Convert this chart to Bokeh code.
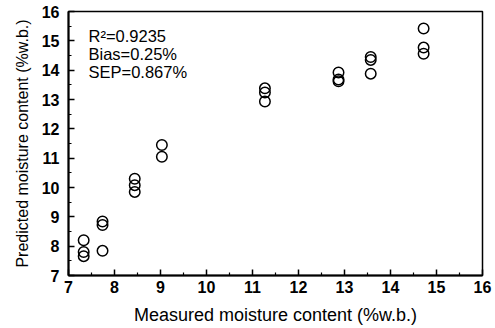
from bokeh.plotting import figure
from bokeh.models import Range1d, Label, FixedTicker
from bokeh.embed import file_html
from bokeh.resources import INLINE

# Data
measured = [7.33, 7.33, 7.33, 7.74, 7.74, 7.74, 8.44, 8.44, 8.44, 9.03, 9.03,
            11.27, 11.27, 11.27, 12.87, 12.87, 12.87, 13.57, 13.57, 13.57,
            14.72, 14.72, 14.72]
predicted = [8.2, 7.8, 7.66, 8.84, 8.72, 7.84, 10.3, 10.08, 9.85, 11.45, 11.05,
             13.38, 13.24, 12.93, 13.92, 13.68, 13.62, 14.45, 14.35, 13.88,
             15.42, 14.77, 14.56]
x_ticks = [7, 8, 9, 10, 11, 12, 13, 14, 15, 16]
y_ticks = [7, 8, 9, 10, 11, 12, 13, 14, 15, 16]
stats = ["R\u00b2=0.9235", "Bias=0.25%", "SEP=0.867%"]

FONT = "Liberation Sans"

p = figure(width=495, height=328, output_backend="svg", toolbar_location=None,
           x_range=Range1d(7, 16), y_range=Range1d(7, 16),
           min_border_left=68, min_border_right=13, min_border_top=11, min_border_bottom=53)
p.background_fill_color = "white"
p.border_fill_color = "white"
p.outline_line_color = "black"
p.outline_line_width = 1.5
p.xgrid.visible = False
p.ygrid.visible = False

for ax, ticks in ((p.xaxis[0], x_ticks), (p.yaxis[0], y_ticks)):
    ax.ticker = FixedTicker(ticks=ticks, minor_ticks=[t + 0.5 for t in ticks[:-1]])
    ax.axis_line_width = 2
    ax.axis_line_color = "black"
    ax.major_tick_in = 6
    ax.major_tick_out = 0
    ax.minor_tick_in = 3
    ax.minor_tick_out = 0
    ax.major_tick_line_width = 1.5
    ax.minor_tick_line_width = 1.2
    ax.major_label_text_font = FONT
    ax.major_label_text_font_style = "bold"
    ax.major_label_text_font_size = "16px"
    ax.major_label_text_color = "black"
    ax.axis_label_text_font = FONT
    ax.axis_label_text_font_style = "normal"
    ax.axis_label_text_color = "black"

p.xaxis.axis_label = "Measured moisture content (%w.b.)"
p.yaxis.axis_label = "Predicted moisture content (%w.b.)"
p.xaxis.axis_label_text_font_size = "18px"
p.yaxis.axis_label_text_font_size = "16px"
p.xaxis.major_label_standoff = 5
p.xaxis.axis_label_standoff = 9
p.yaxis.major_label_standoff = 9
p.yaxis.axis_label_standoff = 8

p.scatter(measured, predicted, marker="circle", size=10.5, fill_color=None,
          line_color="black", line_width=1.5)

for i, s in enumerate(stats):
    p.add_layout(Label(x=20, y=231 - i * 18, x_units="screen", y_units="screen",
                       text=s, text_font=FONT, text_font_size="16.5px", text_color="black"))

open("out.html", "w").write(file_html(p, INLINE))
